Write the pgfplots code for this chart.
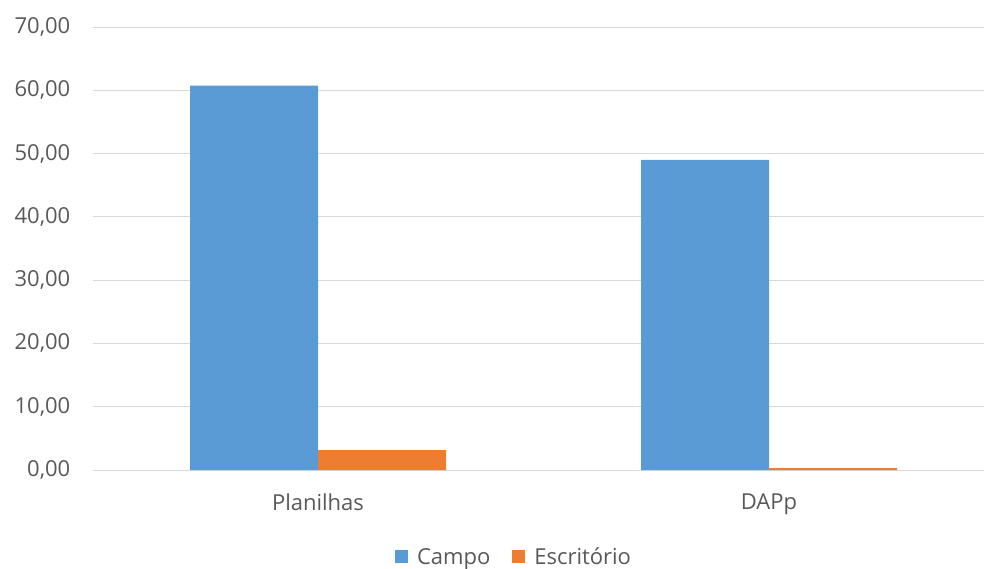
\documentclass[border=0pt]{standalone}
\usepackage{pgfplots}
\pgfplotsset{compat=1.18}
\usepackage{fontspec}
\setmainfont{Open Sans}
\definecolor{cblue}{HTML}{5B9BD5}
\definecolor{corange}{HTML}{ED7D31}
\definecolor{tgray}{HTML}{595959}
\definecolor{ggray}{HTML}{D9D9D9}
\begin{document}
\begin{tikzpicture}[x=1pt,y=1pt]
\useasboundingbox (0,0) rectangle (984,568);
\begin{axis}[
  at={(92.5pt,98pt)}, anchor=south west,
  scale only axis, width=891.5pt, height=443pt,
  xmin=-0.5, xmax=1.4767, ymin=0, ymax=70,
  bar width=128pt,
  xtick={0,1}, xticklabels={Planilhas,DAPp},
  ytick={0,10,...,70},
  ymajorgrids, grid style={ggray, line width=0.8pt},
  axis line style={draw=none},
  major tick length=0pt,
  font=\fontsize{22}{26}\selectfont,
  tick label style={text=tgray, font=\fontsize{22}{26}\selectfont},
  yticklabel style={anchor=east, inner sep=0pt, xshift=-22pt,
    /pgf/number format/.cd, fixed, fixed zerofill, precision=2, use comma, assume math mode=true},
  xticklabel style={anchor=north, inner sep=0pt, yshift=-24pt},
  legend style={at={(0.4717,-0.196)}, anchor=center, draw=none, legend columns=2,
    font=\fontsize{22}{26}\selectfont, text=tgray, inner sep=0pt,
    nodes={inner sep=0pt},
    /tikz/every odd column/.append style={column sep=9pt},
    /tikz/every even column/.append style={column sep=22pt}},
  legend image code/.code={\fill[#1] (0pt,-6.5pt) rectangle (13pt,6.5pt);},
  clip=false,
]
\addplot[ybar, fill=cblue, draw=none, bar shift=-64pt] coordinates {(0,60.75) (1,49.0)};
\addplot[ybar, fill=corange, draw=none, bar shift=64pt] coordinates {(0,3.15) (1,0.3)};
\legend{Campo,Escritório}
\end{axis}
\end{tikzpicture}
\end{document}
